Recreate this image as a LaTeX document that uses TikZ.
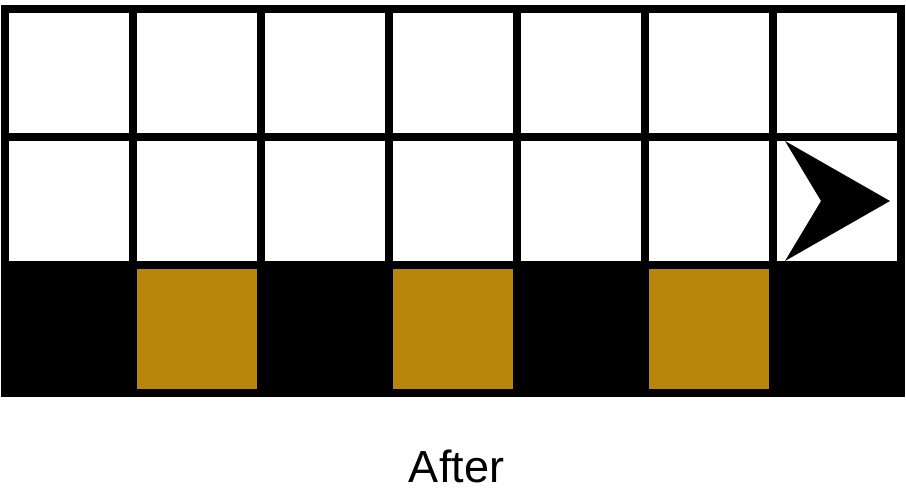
\documentclass[tikz,border=0pt]{standalone}
\usepackage{fontspec}
\setmainfont{Liberation Sans}
\definecolor{gold}{HTML}{B8860B}
\begin{document}
\begin{tikzpicture}[x=1pt,y=-1pt,
  gridline/.style={line width=8pt, draw=black, miter limit=10},
  goldcell/.style={fill=gold, draw=none},
  lbl/.style={font=\fontsize{45}{54}\selectfont, inner sep=0pt, anchor=base}]
\useasboundingbox (0,0) rectangle (906,500);
\fill[white] (0,0) rectangle (906,500);
% bottom row black
\fill[black] (5,265) rectangle (901,393);
% gold cells
\foreach \c in {1,3,5} {
  \fill[goldcell] ({5+128*\c+4},269) rectangle ({5+128*(\c+1)-4},389);
}
% grid
\foreach \c in {1,...,6} {
  \draw[gridline] ({5+128*\c},9) -- ({5+128*\c},393);
}
\draw[gridline] (5,137) -- (901,137);
\draw[gridline] (5,265) -- (901,265);
\draw[gridline] (5,9) rectangle (901,393);
% arrow marker
\fill[black] (785,141) -- (890,201) -- (785,261) -- (821,201) -- cycle;
% label
\node[lbl] (after) at (456.5,482) {After};
\end{tikzpicture}
\end{document}
